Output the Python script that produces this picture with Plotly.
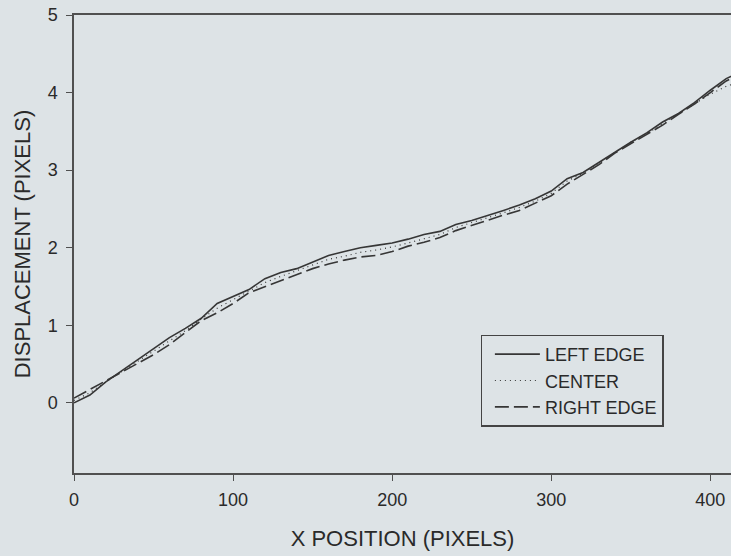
import plotly.graph_objects as go

x_pos = [0, 10, 20, 30, 40, 50, 60, 70, 80, 90, 100, 110, 120, 130, 140, 150, 160, 170, 180, 190, 200,
         210, 220, 230, 240, 250, 260, 270, 280, 290, 300, 310, 320, 330, 340, 350, 360, 370, 380, 390,
         400, 410, 420]

left_edge = [0.00, 0.10, 0.27, 0.41, 0.55, 0.70, 0.84, 0.96, 1.09, 1.28, 1.37, 1.46, 1.60, 1.68, 1.73,
             1.81, 1.90, 1.95, 2.00, 2.03, 2.06, 2.11, 2.17, 2.21, 2.30, 2.35, 2.41, 2.48, 2.55, 2.63,
             2.73, 2.89, 2.97, 3.10, 3.24, 3.36, 3.48, 3.62, 3.73, 3.87, 4.03, 4.18, 4.28]

center = [0.03, 0.13, 0.27, 0.40, 0.53, 0.66, 0.80, 0.93, 1.08, 1.22, 1.33, 1.44, 1.55, 1.63, 1.70,
          1.77, 1.85, 1.89, 1.94, 1.97, 2.01, 2.06, 2.12, 2.17, 2.26, 2.32, 2.38, 2.45, 2.52, 2.60,
          2.70, 2.86, 2.96, 3.09, 3.23, 3.36, 3.47, 3.60, 3.73, 3.86, 3.98, 4.08, 4.15]

right_edge = [0.06, 0.17, 0.28, 0.39, 0.50, 0.62, 0.75, 0.90, 1.06, 1.16, 1.28, 1.42, 1.50, 1.58, 1.66,
              1.73, 1.79, 1.84, 1.88, 1.90, 1.95, 2.02, 2.07, 2.13, 2.22, 2.29, 2.35, 2.42, 2.48, 2.57,
              2.67, 2.82, 2.95, 3.07, 3.22, 3.34, 3.45, 3.58, 3.72, 3.85, 4.00, 4.15, 4.25]

x_ticks = [0, 100, 200, 300, 400]
y_ticks = [0, 1, 2, 3, 4, 5]

BG = "#dde3e6"
INK = "#363636"
AXIS = "#505050"
FONT = "Liberation Sans, Arial, sans-serif"

fig = go.Figure()
fig.add_trace(go.Scatter(x=x_pos, y=left_edge, mode="lines", name="LEFT EDGE",
                         line=dict(color=INK, width=1.6, dash="solid")))
fig.add_trace(go.Scatter(x=x_pos, y=center, mode="lines", name="CENTER",
                         line=dict(color=INK, width=1.2, dash="1px,4px")))
fig.add_trace(go.Scatter(x=x_pos, y=right_edge, mode="lines", name="RIGHT EDGE",
                         line=dict(color=INK, width=1.6, dash="14px,5px")))

fig.update_layout(
    width=731, height=556,
    margin=dict(l=74, r=0, t=15, b=83),
    paper_bgcolor=BG, plot_bgcolor=BG,
    font=dict(family=FONT, size=18, color="#2a2a2a"),
    showlegend=True,
    legend=dict(x=0.619, y=0.302, xanchor="left", yanchor="top",
                bgcolor=BG, bordercolor="#444444", borderwidth=1.2,
                indentation=8, itemwidth=45, entrywidth=125, entrywidthmode="pixels",
                font=dict(size=18, color="#2a2a2a"), tracegroupgap=0),
    xaxis=dict(range=[0, 413], tickvals=x_ticks, ticks="outside", ticklen=6,
               tickcolor=AXIS, showline=True, linecolor=AXIS, linewidth=1.5,
               mirror=True, showgrid=False, zeroline=False, automargin=False,
               ticklabelstandoff=4,
               title=dict(text="X POSITION (PIXELS)", font=dict(size=22), standoff=21)),
    yaxis=dict(range=[-0.905, 5], tickvals=y_ticks, ticks="outside", ticklen=6,
               tickcolor=AXIS, showline=True, linecolor=AXIS, linewidth=1.5,
               showgrid=False, zeroline=False, automargin=False,
               ticklabelstandoff=5,
               title=dict(text="DISPLACEMENT (PIXELS)", font=dict(size=22), standoff=11)),
)

fig.write_html(
    "out.html",
    config={"displayModeBar": False},
    post_script="document.body.style.margin='0';document.body.style.background='" + BG + "';",
)
